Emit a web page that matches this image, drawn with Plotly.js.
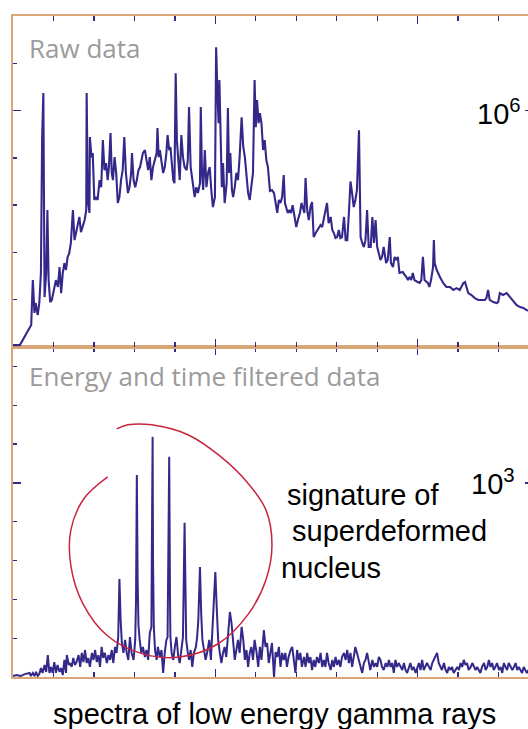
<!DOCTYPE html>
<html>
<head>
<meta charset="utf-8">
<script src="https://cdn.plot.ly/plotly-3.0.1.min.js"></script>
<style>
html,body{margin:0;padding:0;overflow:hidden;background:#fff;}
#chart{width:545px;height:729px;}
</style>
</head>
<body>
<div id="chart"></div>
<script>
// ---- Raw spectrum (top panel): energy in keV, counts in thousands ----
const rawEnergyKeV = [
0,17,45,49,53,56,61,65,69,72,
75,78,82,85,88,92,96,102,106,111,
115,119,123,127,131,135,139,143,148,152,
156,160,164,168,172,177,181,182,185,189,
190,194,197,201,205,209,214,218,222,226,
230,234,237,241,244,247,251,255,259,263,
267,271,275,279,284,288,292,294,298,302,
306,310,314,319,321,326,330,334,338,342,
346,350,355,357,360,363,367,371,375,379,
382,386,389,392,396,399,402,405,409,412,
416,420,424,429,432,435,439,442,445,449,
453,457,462,464,467,470,474,478,482,486,
490,494,499,502,505,508,510,513,516,519,
523,528,531,534,537,541,544,548,552,556,
560,565,569,573,577,581,585,589,593,597,
600,603,607,610,614,618,622,626,630,635,
640,645,649,653,657,661,665,669,672,675,
679,683,687,691,696,700,704,709,713,717,
720,723,727,731,735,739,743,748,752,756,
760,764,768,772,776,780,785,789,793,797,
801,805,809,813,818,822,826,830,834,838,
842,846,850,855,859,863,867,871,875,879,
884,888,892,896,900,904,908,912,916,922,
926,931,934,939,943,947,951,955,963,972,
976,980,984,988,992,1000,1005,1009,1013,1017,
1025,1029,1033,1038,1040,1042,1047,1055,1063,1071,
1080,1088,1096,1104,1113,1117,1125,1133,1141,1150,
1158,1166,1170,1174,1178,1187,1195,1199,1203,1211,
1220,1228,1236,1244,1253,1261,1269,1278];
const rawCountsK = [
8,8,93,283,144,186,135,186,313,888,
1074,211,313,579,283,190,199,254,283,254,
338,228,313,355,326,381,397,440,579,452,
482,507,550,486,507,537,579,1074,622,567,
888,803,820,622,634,622,706,676,875,748,
778,706,761,905,736,706,803,736,609,634,
706,748,888,736,651,676,736,820,706,676,
706,748,761,803,820,833,791,748,803,706,
761,791,820,926,803,833,791,736,761,820,
896,833,846,778,706,693,1158,875,761,706,
896,803,761,748,791,1015,761,719,693,634,
676,651,693,1015,736,664,833,676,736,761,
664,592,634,1268,1087,947,1129,875,676,778,
609,693,1011,736,820,664,634,676,736,706,
803,972,846,803,706,651,622,676,736,1129,
930,1044,947,989,947,833,875,791,761,660,
664,651,609,567,622,609,634,727,609,592,
567,579,567,600,550,507,537,567,609,579,
567,715,579,537,592,613,465,482,495,507,
516,507,537,567,609,524,550,495,482,461,
465,495,461,465,550,452,452,567,700,651,
592,622,664,917,465,440,423,452,579,423,
423,550,440,537,423,397,368,381,423,355,
368,465,355,338,381,368,381,313,317,296,
283,296,283,313,283,275,271,283,381,283,
271,254,283,338,452,355,326,296,271,254,
254,241,249,241,271,275,228,220,207,199,
199,199,207,241,199,190,186,190,228,220,
228,211,199,178,169,165,156,152];

// ---- Energy and time filtered spectrum (bottom panel): counts ----
const filtEnergyKeV = [
0,9,19,29,41,44,49,53,57,61,
65,69,73,78,82,86,90,94,98,102,
106,110,115,119,123,127,131,133,138,141,
145,149,153,157,162,166,170,174,178,182,
186,190,195,199,203,207,211,215,219,223,
227,232,236,240,244,248,252,256,260,263,
266,269,273,277,281,285,289,293,298,302,
304,306,308,310,313,317,321,326,330,334,
338,342,343,345,346,348,351,355,358,363,
367,371,375,379,382,386,388,389,392,396,
400,404,408,412,416,420,424,426,428,432,
435,439,443,447,452,455,458,462,463,465,
468,472,476,481,485,489,493,497,500,504,
507,511,515,519,523,527,531,536,540,544,
548,552,556,560,565,569,573,577,581,585,
589,593,597,602,606,610,614,618,620,624,
628,632,636,640,645,649,653,657,661,665,
669,673,677,681,686,690,694,698,702,706,
710,714,719,723,727,731,735,739,743,747,
751,756,760,764,768,772,776,780,785,789,
793,797,801,805,809,813,818,822,826,830,
834,838,842,846,850,855,859,863,867,871,
875,879,883,888,892,896,900,904,908,912,
916,921,925,929,933,937,941,945,949,953,
958,962,966,970,974,978,982,986,990,995,
999,1003,1007,1011,1015,1019,1023,1028,1032,1036,
1040,1044,1048,1052,1056,1060,1065,1069,1073,1077,
1081,1085,1089,1093,1098,1102,1106,1110,1114,1118,
1122,1126,1131,1135,1139,1143,1147,1151,1155,1159,
1164,1168,1172,1176,1180,1184,1188,1192,1196,1201,
1205,1209,1213,1217,1221,1225,1229,1234,1238,1242,
1246,1250,1254,1258,1262,1266,1270,1274];
const filtCounts = [
5,10,5,15,21,5,21,5,26,5,
15,46,21,62,26,113,21,52,21,77,
21,62,26,46,10,88,21,113,62,72,
52,98,62,77,113,52,124,77,139,72,
98,52,124,88,139,77,113,52,155,98,
124,72,113,88,139,72,155,124,206,505,
294,175,124,191,124,88,206,124,88,191,
397,1041,500,268,191,124,155,103,139,88,
227,258,603,1237,603,258,139,88,155,103,
139,21,124,191,206,1134,397,206,124,88,
155,206,113,72,139,206,794,397,191,124,
88,139,52,124,155,206,294,567,448,330,
191,124,88,139,191,88,258,433,541,330,
191,124,72,124,155,103,227,335,278,155,
88,139,191,124,258,191,88,139,52,124,
155,88,191,124,52,155,88,191,242,155,
175,72,129,175,0,129,103,155,52,124,
88,124,52,103,139,155,88,21,139,88,
124,52,103,52,124,72,103,36,88,52,
103,72,124,52,88,52,124,72,36,88,
52,103,62,88,52,103,124,88,139,72,
124,52,103,155,124,88,52,21,72,88,
124,72,36,88,52,72,52,103,88,52,
36,72,52,88,52,72,21,88,52,72,
52,36,72,36,21,52,72,36,52,21,
52,72,36,88,36,52,72,52,36,72,
88,103,124,72,52,36,72,36,21,52,
36,52,21,36,52,36,72,52,88,62,
72,36,52,72,52,36,52,36,21,52,
72,36,52,88,52,72,36,52,72,36,
52,21,72,52,36,72,52,36,52,72,
36,52,36,21,52,36,21,36];

// ---- Hand-drawn red loop around the superdeformed band (bottom panel units) ----
const loopEnergyKeV = [234,175,143,143,172,234,321,412,506,580,625,640,625,578,511,432,343,284,256];
const loopCounts    = [1031,918,758,572,381,211,119,103,170,320,500,680,861,1005,1139,1248,1299,1299,1278];

// ---- Text ----
const panelTitles = ["Raw data", "Energy and time filtered data"];
const scaleLabels = ["10<sup>6</sup>", "10<sup>3</sup>"];
const noteLines = ["signature of", "superdeformed", "nucleus"];
const bottomCaption = "spectra of low energy gamma rays";

// ---- Style ----
const BLUE = "#34298a";
const ORANGE = "#d9a677";
const GREY = "#9b9b9b";
const RED = "#c8253f";

const W = 545, H = 729, ML = 13, MR = 12, MT = 16, MB = 52;
const PW = W - ML - MR, PH = H - MT - MB;
const px = v => (v - ML) / PW;
const py = v => (H - MB - v) / PH;
const split = (677 - 347) / PH;

function xax(anchor) {
  return {
    anchor: anchor, domain: [0, 1], range: [0, 1285],
    showline: true, linecolor: ORANGE, linewidth: 1.6, mirror: "ticks",
    ticks: "inside", tick0: 0, dtick: 500, ticklen: 8, tickwidth: 1.5, tickcolor: BLUE,
    minor: {ticks: "inside", tick0: 0, dtick: 100, ticklen: 5, tickwidth: 1.3, tickcolor: BLUE, showgrid: false},
    showticklabels: false, showgrid: false, zeroline: false, fixedrange: true
  };
}
function yax(anchor, domain, top, minorStep) {
  return {
    anchor: anchor, domain: domain, range: [0, top],
    showline: true, linecolor: ORANGE, linewidth: 1.6, mirror: "ticks",
    ticks: "inside", tick0: 0, dtick: minorStep * 5, ticklen: 8, tickwidth: 1.5, tickcolor: BLUE,
    minor: {ticks: "inside", tick0: 0, dtick: minorStep, ticklen: 4, tickwidth: 1.3, tickcolor: BLUE, showgrid: false},
    showticklabels: false, showgrid: false, zeroline: false, fixedrange: true
  };
}

const traces = [
  {x: rawEnergyKeV, y: rawCountsK, xaxis: "x2", yaxis: "y2", type: "scatter", mode: "lines",
   line: {color: BLUE, width: 2.1}, hoverinfo: "skip"},
  {x: filtEnergyKeV, y: filtCounts, xaxis: "x", yaxis: "y", type: "scatter", mode: "lines",
   line: {color: BLUE, width: 2.0}, hoverinfo: "skip"},
  {x: loopEnergyKeV, y: loopCounts, xaxis: "x", yaxis: "y", type: "scatter", mode: "lines",
   line: {color: RED, width: 1.5, shape: "spline", smoothing: 1.0}, hoverinfo: "skip"}
];

const titleFont = {family: "Open Sans, Lato, sans-serif", size: 26, color: GREY};
const blackFont = {family: "Liberation Sans, Arial, sans-serif", size: 29, color: "#000"};

const annotations = [
  {text: panelTitles[0], x: px(27), y: py(48), xanchor: "left", yanchor: "middle"},
  {text: panelTitles[1], x: px(27), y: py(376), xanchor: "left", yanchor: "middle"},
].map(a => Object.assign({xref: "paper", yref: "paper", showarrow: false, font: titleFont}, a))
.concat([
  {text: scaleLabels[0], x: px(523), y: py(112), xanchor: "right", yanchor: "middle"},
  {text: scaleLabels[1], x: px(517), y: py(482), xanchor: "right", yanchor: "middle"},
  {text: noteLines[0], x: px(285), y: py(495), xanchor: "left", yanchor: "middle"},
  {text: noteLines[1], x: px(290), y: py(531), xanchor: "left", yanchor: "middle"},
  {text: noteLines[2], x: px(279), y: py(568), xanchor: "left", yanchor: "middle"},
  {text: bottomCaption, x: px(274), y: py(714), xanchor: "center", yanchor: "middle"}
].map(a => Object.assign({xref: "paper", yref: "paper", showarrow: false, font: blackFont}, a)));

const layout = {
  width: W, height: H,
  margin: {l: ML, r: MR, t: MT, b: MB, pad: 0},
  paper_bgcolor: "#fff", plot_bgcolor: "#fff",
  showlegend: false,
  xaxis: xax("y"),
  yaxis: yax("x", [0, split], 1700, 200),
  xaxis2: xax("y2"),
  yaxis2: yax("x2", [split, 1], 1400, 200),
  annotations: annotations
};

Plotly.newPlot("chart", traces, layout, {staticPlot: true, displayModeBar: false});
</script>
</body>
</html>
